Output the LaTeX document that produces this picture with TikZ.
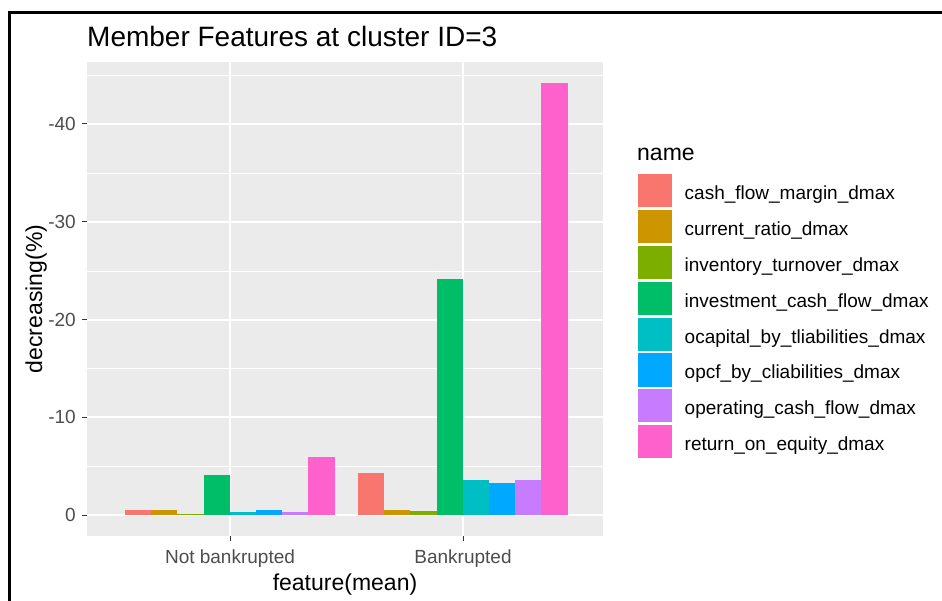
\documentclass[tikz,border=0pt]{standalone}
\usepackage{fontspec}
\setmainfont{Liberation Sans}
\usepackage{xcolor}
\usetikzlibrary{positioning}
\definecolor{panelgray}{HTML}{EBEBEB}
\definecolor{axisgray}{HTML}{4D4D4D}
\definecolor{tickgray}{HTML}{333333}
\definecolor{bar1}{HTML}{F8766D}
\definecolor{bar2}{HTML}{CD9600}
\definecolor{bar3}{HTML}{7CAE00}
\definecolor{bar4}{HTML}{00BE67}
\definecolor{bar5}{HTML}{00BFC4}
\definecolor{bar6}{HTML}{00A9FF}
\definecolor{bar7}{HTML}{C77CFF}
\definecolor{bar8}{HTML}{FF61CC}
\newcommand{\axisfont}{\fontsize{19}{22}\selectfont}
\newcommand{\titlefont}{\fontsize{23}{27}\selectfont}

\begin{document}
\begin{tikzpicture}[x=1pt,y=-1pt,
    ticklabel/.style={anchor=east, text=axisgray, inner sep=0pt, font=\axisfont},
    axistitle/.style={inner sep=0pt, font=\titlefont},
    legkey/.style={rectangle, draw=white, line width=1pt, minimum width=35pt,
                   minimum height=34pt, inner sep=0pt},
    leglabel/.style={anchor=west, inner sep=0pt, font=\axisfont, yshift=-4pt}]
    \useasboundingbox (0,0) rectangle (942,601);
    % outer frame
    \draw[line width=3pt] (9,601) -- (9,13) -- (942,13);
    % title
    \node[anchor=base west, inner sep=0pt, font=\fontsize{28}{32}\selectfont] (title) at (87,47) {Member Features at cluster ID=3};
    % panel and grid
    \fill[panelgray] (87,62) rectangle (603,536);
    \foreach \y in {75,173,271,368,466}
        \draw[white, line width=0.8pt] (87,\y) -- (603,\y);
    \foreach \y in {124,222,320,417,515}
        \draw[white, line width=1.6pt] (87,\y) -- (603,\y);
    \foreach \x in {230,463}
        \draw[white, line width=1.6pt] (\x,62) -- (\x,536);
    % bars, not bankrupted
    \foreach \v [count=\i] in {0.5,0.5,0.15,4.1,0.3,0.5,0.3,5.95}
        \fill[bar\i] ({125+(\i-1)*26.2},515) rectangle ++(26.2,{-\v*9.79});
    % bars, bankrupted
    \foreach \v [count=\i] in {4.3,0.55,0.4,24.1,3.6,3.3,3.6,44.1}
        \fill[bar\i] ({358+(\i-1)*26.2},515) rectangle ++(26.2,{-\v*9.79});
    % y axis
    \foreach \y/\t in {124/-40,222/-30,320/-20,417/-10,515/0} {
        \draw[tickgray, line width=1pt] (82,\y) -- (87,\y);
        \node[ticklabel] (ytick\t) at (76,\y) {\t};
    }
    % x axis
    \foreach \x/\t in {230/Not bankrupted,463/Bankrupted} {
        \draw[tickgray, line width=1pt] (\x,536) -- (\x,541);
        \node[anchor=base, text=axisgray, inner sep=0pt, font=\axisfont] at (\x,563) {\t};
    }
    \node[axistitle, anchor=base] (xtitle) at (345,590) {feature(mean)};
    \node[axistitle, rotate=90, anchor=base] (ytitle) at (42,299) {decreasing(\%)};
    % legend
    \node[axistitle, anchor=base west] (legtitle) at (637,161) {name};
    \foreach \t [count=\i] in {cash\_flow\_margin\_dmax, current\_ratio\_dmax,
            inventory\_turnover\_dmax, investment\_cash\_flow\_dmax,
            ocapital\_by\_tliabilities\_dmax, opcf\_by\_cliabilities\_dmax,
            operating\_cash\_flow\_dmax, return\_on\_equity\_dmax} {
        \node[legkey, fill=bar\i] (key\i) at (654.5,{190.5+(\i-1)*35.9}) {};
        \node[leglabel, right=12pt of key\i] (lab\i) {\t};
    }
\end{tikzpicture}
\end{document}
